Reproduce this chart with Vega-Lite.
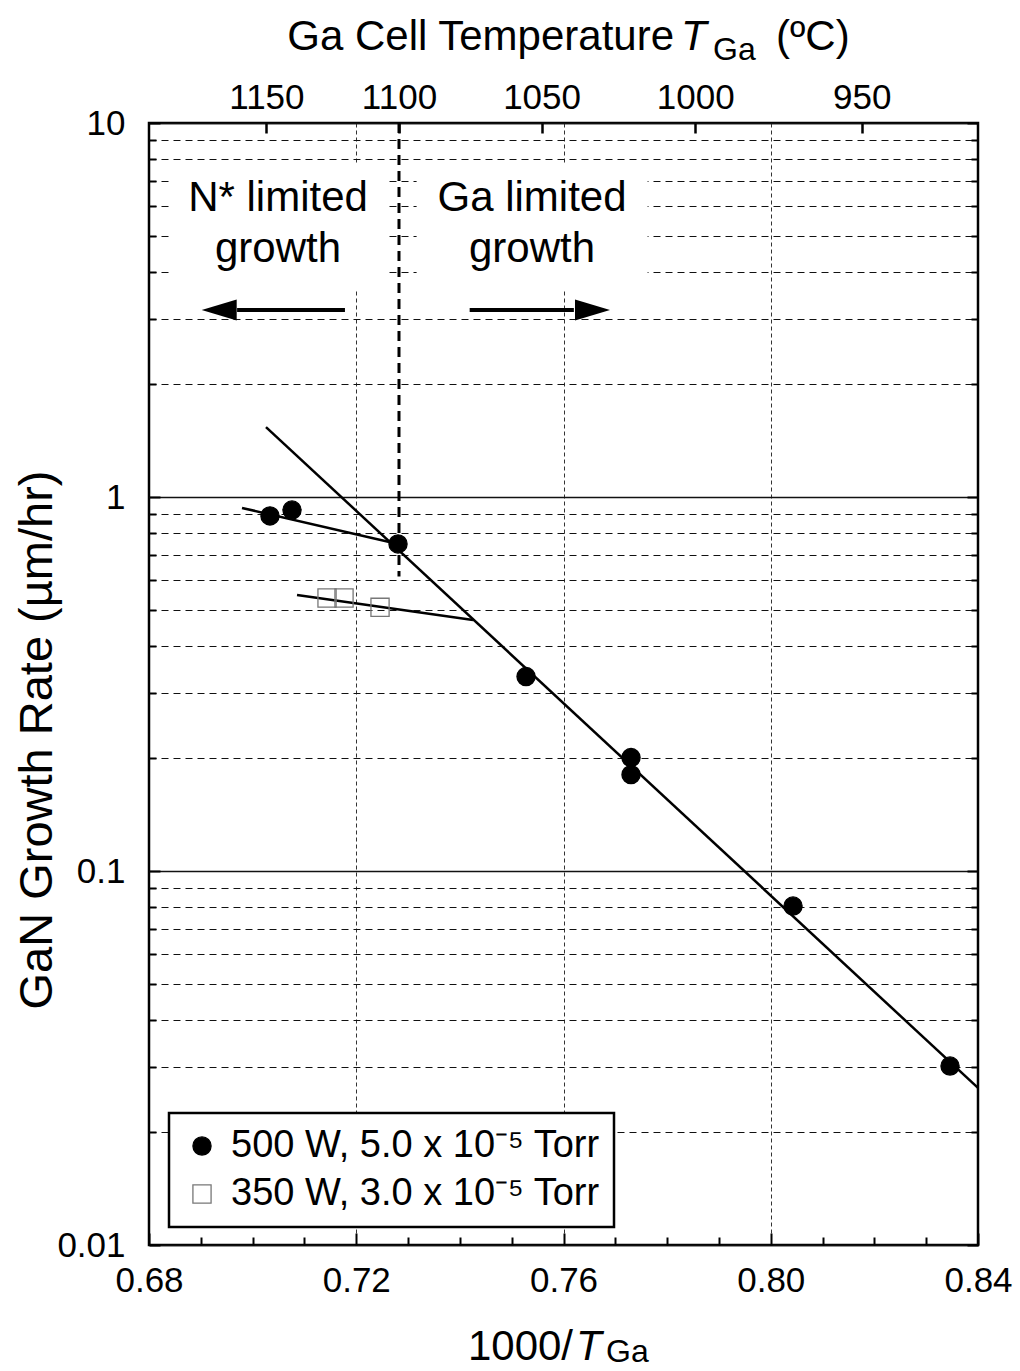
{
  "$schema": "https://vega.github.io/schema/vega-lite/v6.json",
  "width": 829,
  "height": 1122,
  "autosize": "none",
  "padding": {"left": 149, "top": 123, "right": 42, "bottom": 126},
  "background": "white",
  "datasets": {
    "pts": [
      {"s": "500 W, 5.0 x 10⁻⁵ Torr", "x": 0.70335, "y": 0.890},
      {"s": "500 W, 5.0 x 10⁻⁵ Torr", "x": 0.70760, "y": 0.923},
      {"s": "500 W, 5.0 x 10⁻⁵ Torr", "x": 0.72806, "y": 0.749},
      {"s": "500 W, 5.0 x 10⁻⁵ Torr", "x": 0.75277, "y": 0.331},
      {"s": "500 W, 5.0 x 10⁻⁵ Torr", "x": 0.77303, "y": 0.201},
      {"s": "500 W, 5.0 x 10⁻⁵ Torr", "x": 0.77303, "y": 0.181},
      {"s": "500 W, 5.0 x 10⁻⁵ Torr", "x": 0.80430, "y": 0.0806},
      {"s": "500 W, 5.0 x 10⁻⁵ Torr", "x": 0.83460, "y": 0.0301},
      {"s": "350 W, 3.0 x 10⁻⁵ Torr", "x": 0.71436, "y": 0.537},
      {"s": "350 W, 3.0 x 10⁻⁵ Torr", "x": 0.71764, "y": 0.537},
      {"s": "350 W, 3.0 x 10⁻⁵ Torr", "x": 0.72459, "y": 0.507}
    ],
    "fits": [
      {"id": "A", "x1": 0.70258, "y1": 1.538, "x2": 0.84, "y2": 0.0263},
      {"id": "B", "x1": 0.69795, "y1": 0.935, "x2": 0.72806, "y2": 0.749},
      {"id": "C", "x1": 0.70857, "y1": 0.547, "x2": 0.74254, "y2": 0.469}
    ],
    "vline": [{"x": 0.72825, "y1": 10, "y2": 0.613}],
    "boxes": [
      {"x1": 0.68405, "x2": 0.72613, "y1": 7.75, "y2": 3.59},
      {"x1": 0.73165, "x2": 0.77623, "y1": 7.75, "y2": 3.59}
    ],
    "notes": [
      {"t": "N* limited", "x": 0.70490, "y": 5.80},
      {"t": "growth", "x": 0.70490, "y": 4.24},
      {"t": "Ga limited", "x": 0.75392, "y": 5.80},
      {"t": "growth", "x": 0.75392, "y": 4.24}
    ],
    "shafts": [
      {"x1": 0.69700, "x2": 0.71782, "y": 3.162},
      {"x1": 0.74189, "x2": 0.76200, "y": 3.162}
    ],
    "headL": [{"x": 0.69017, "y": 3.162}],
    "headR": [{"x": 0.76898, "y": 3.162}],
    "titleRight": [
      {"t": "Ga Cell Temperature", "x": 0.78133, "y": 15.67},
      {"t": "1000/", "x": 0.76184, "y": 0.004941}
    ],
    "titleLeft": [
      {"t": "(ºC)", "x": 0.80102, "y": 15.67}
    ],
    "titleItalic": [
      {"t": "T", "x": 0.78268, "y": 15.67},
      {"t": "T", "x": 0.76242, "y": 0.004941}
    ],
    "titleSub": [
      {"t": "Ga", "x": 0.78886, "y": 14.74},
      {"t": "Ga", "x": 0.76821, "y": 0.004851}
    ],
    "titleY": [
      {"t": "GaN Growth Rate (µm/hr)", "x": 0.66128, "y": 0.224}
    ]
  },
  "resolve": {"axis": {"x": "independent", "y": "independent"}},
  "layer": [
    {
      "data": {"name": "boxes"},
      "mark": {"type": "rect", "fill": "white", "stroke": null},
      "encoding": {
        "x": {
          "field": "x1", "type": "quantitative",
          "scale": {"type": "linear", "domain": [0.68, 0.84], "nice": false, "zero": false},
          "axis": {
            "orient": "bottom",
            "values": [0.68, 0.69, 0.7, 0.71, 0.72, 0.73, 0.74, 0.75, 0.76, 0.77, 0.78, 0.79, 0.8, 0.81, 0.82, 0.83, 0.84],
            "labelExpr": "indexof([0.68,0.72,0.76,0.8,0.84], datum.value) >= 0 ? format(datum.value, '.2f') : ''",
            "grid": true,
            "gridOpacity": {"condition": {"test": "indexof([0.72,0.76,0.8], datum.value) >= 0", "value": 1}, "value": 0},
            "gridDash": [4, 3],
            "gridColor": "#333333",
            "gridWidth": 1,
            "tickSize": {"condition": {"test": "indexof([0.68,0.72,0.76,0.8,0.84], datum.value) >= 0", "value": -12}, "value": -8},
            "tickWidth": 2,
            "tickColor": "black",
            "labelPadding": 30,
            "labelFontSize": 35,
            "labelFont": "Liberation Sans",
            "labelColor": "black",
            "labelOverlap": false,
            "labelFlush": false,
            "title": null,
            "domain": false
          }
        },
        "x2": {"field": "x2"},
        "y": {
          "field": "y1", "type": "quantitative",
          "scale": {"type": "log", "domain": [0.01, 10], "nice": false},
          "axis": {
            "orient": "left",
            "values": [0.01, 0.02, 0.03, 0.04, 0.05, 0.06, 0.07, 0.08, 0.09, 0.1, 0.2, 0.3, 0.4, 0.5, 0.6, 0.7, 0.8, 0.9, 1, 2, 3, 4, 5, 6, 7, 8, 9, 10],
            "labelExpr": "datum.value == 10 ? '10' : datum.value == 1 ? '1' : datum.value == 0.1 ? '0.1' : datum.value == 0.01 ? '0.01' : ''",
            "grid": true,
            "gridDash": {"condition": {"test": "indexof([0.01,0.1,1,10], datum.value) >= 0", "value": []}, "value": [7, 5]},
            "gridColor": "#111111",
            "gridWidth": {"condition": {"test": "indexof([0.01,0.1,1,10], datum.value) >= 0", "value": 1.3}, "value": 1},
            "tickSize": {"condition": {"test": "indexof([0.01,0.1,1,10], datum.value) >= 0", "value": -11}, "value": -7},
            "tickWidth": 2,
            "tickColor": "black",
            "labelPadding": 35,
            "labelFontSize": 35,
            "labelFont": "Liberation Sans",
            "labelColor": "black",
            "labelOverlap": false,
            "labelFlush": false,
            "title": null,
            "domain": false
          }
        },
        "y2": {"field": "y2"}
      }
    },
    {
      "data": {"name": "vline"},
      "mark": {"type": "rule", "stroke": "black", "strokeWidth": 3, "strokeDash": [10, 6]},
      "encoding": {
        "x": {"field": "x", "type": "quantitative", "scale": {"type": "linear", "domain": [0.68, 0.84], "nice": false, "zero": false}, "axis": null},
        "y": {"field": "y1", "type": "quantitative", "scale": {"type": "log", "domain": [0.01, 10], "nice": false}, "axis": null},
        "y2": {"field": "y2"}
      }
    },
    {
      "data": {"name": "fits"},
      "mark": {"type": "rule", "stroke": "black", "strokeWidth": 2.5},
      "encoding": {
        "x": {"field": "x1", "type": "quantitative", "scale": {"type": "linear", "domain": [0.68, 0.84], "nice": false, "zero": false}, "axis": null},
        "x2": {"field": "x2"},
        "y": {"field": "y1", "type": "quantitative", "scale": {"type": "log", "domain": [0.01, 10], "nice": false}, "axis": null},
        "y2": {"field": "y2"}
      }
    },
    {
      "data": {"name": "shafts"},
      "mark": {"type": "rule", "stroke": "black", "strokeWidth": 4},
      "encoding": {
        "x": {"field": "x1", "type": "quantitative", "scale": {"type": "linear", "domain": [0.68, 0.84], "nice": false, "zero": false}, "axis": null},
        "x2": {"field": "x2"},
        "y": {"field": "y", "type": "quantitative", "scale": {"type": "log", "domain": [0.01, 10], "nice": false}, "axis": null}
      }
    },
    {
      "data": {"name": "headL"},
      "mark": {"type": "point", "filled": true, "fill": "black", "stroke": null, "opacity": 1, "size": 1225, "shape": "M 0 0 L 2 -0.6 L 2 0.6 Z"},
      "encoding": {
        "x": {"field": "x", "type": "quantitative", "scale": {"type": "linear", "domain": [0.68, 0.84], "nice": false, "zero": false}, "axis": null},
        "y": {"field": "y", "type": "quantitative", "scale": {"type": "log", "domain": [0.01, 10], "nice": false}, "axis": null}
      }
    },
    {
      "data": {"name": "headR"},
      "mark": {"type": "point", "filled": true, "fill": "black", "stroke": null, "opacity": 1, "size": 1225, "shape": "M 0 0 L -2 -0.6 L -2 0.6 Z"},
      "encoding": {
        "x": {"field": "x", "type": "quantitative", "scale": {"type": "linear", "domain": [0.68, 0.84], "nice": false, "zero": false}, "axis": null},
        "y": {"field": "y", "type": "quantitative", "scale": {"type": "log", "domain": [0.01, 10], "nice": false}, "axis": null}
      }
    },
    {
      "data": {"name": "notes"},
      "mark": {"type": "text", "font": "Liberation Sans", "fontSize": 42, "color": "black", "align": "center", "baseline": "alphabetic"},
      "encoding": {
        "x": {"field": "x", "type": "quantitative", "scale": {"type": "linear", "domain": [0.68, 0.84], "nice": false, "zero": false}, "axis": null},
        "y": {"field": "y", "type": "quantitative", "scale": {"type": "log", "domain": [0.01, 10], "nice": false}, "axis": null},
        "text": {"field": "t"}
      }
    },
    {
      "data": {"name": "pts"},
      "mark": {"type": "point", "opacity": 1, "size": 330, "strokeWidth": 1.3},
      "encoding": {
        "x": {
          "field": "x", "type": "quantitative",
          "scale": {"type": "linear", "domain": [0.68, 0.84], "nice": false, "zero": false},
          "axis": {
            "orient": "top",
            "values": [0.70266, 0.72825, 0.75577, 0.78543, 0.81756],
            "labelExpr": "format(1000 / datum.value - 273.15, '.0f')",
            "grid": false,
            "tickSize": -10,
            "tickWidth": 2.5,
            "tickColor": "black",
            "labelPadding": 18,
            "labelFontSize": 35,
            "labelFont": "Liberation Sans",
            "labelColor": "black",
            "labelOverlap": false,
            "labelFlush": false,
            "title": null,
            "domain": false
          }
        },
        "y": {
          "field": "y", "type": "quantitative",
          "scale": {"type": "log", "domain": [0.01, 10], "nice": false},
          "axis": {
            "orient": "right",
            "values": [0.01, 0.02, 0.03, 0.04, 0.05, 0.06, 0.07, 0.08, 0.09, 0.1, 0.2, 0.3, 0.4, 0.5, 0.6, 0.7, 0.8, 0.9, 1, 2, 3, 4, 5, 6, 7, 8, 9, 10],
            "labels": false,
            "grid": false,
            "tickSize": {"condition": {"test": "indexof([0.01,0.1,1,10], datum.value) >= 0", "value": -11}, "value": -7},
            "tickWidth": 2,
            "tickColor": "black",
            "title": null,
            "domain": false
          }
        },
        "shape": {
          "field": "s", "type": "nominal",
          "scale": {"domain": ["500 W, 5.0 x 10⁻⁵ Torr", "350 W, 3.0 x 10⁻⁵ Torr"], "range": ["circle", "square"]}
        },
        "fill": {
          "field": "s", "type": "nominal",
          "scale": {"domain": ["500 W, 5.0 x 10⁻⁵ Torr", "350 W, 3.0 x 10⁻⁵ Torr"], "range": ["black", "transparent"]}
        },
        "stroke": {
          "field": "s", "type": "nominal",
          "scale": {"domain": ["500 W, 5.0 x 10⁻⁵ Torr", "350 W, 3.0 x 10⁻⁵ Torr"], "range": ["black", "#777777"]}
        }
      }
    },
    {
      "data": {"name": "titleRight"},
      "mark": {"type": "text", "font": "Liberation Sans", "fontSize": 42, "color": "black", "align": "right", "baseline": "alphabetic", "clip": false},
      "encoding": {
        "x": {"field": "x", "type": "quantitative", "scale": {"type": "linear", "domain": [0.68, 0.84], "nice": false, "zero": false}, "axis": null},
        "y": {"field": "y", "type": "quantitative", "scale": {"type": "log", "domain": [0.01, 10], "nice": false}, "axis": null},
        "text": {"field": "t"}
      }
    },
    {
      "data": {"name": "titleLeft"},
      "mark": {"type": "text", "font": "Liberation Sans", "fontSize": 42, "color": "black", "align": "left", "baseline": "alphabetic", "clip": false},
      "encoding": {
        "x": {"field": "x", "type": "quantitative", "scale": {"type": "linear", "domain": [0.68, 0.84], "nice": false, "zero": false}, "axis": null},
        "y": {"field": "y", "type": "quantitative", "scale": {"type": "log", "domain": [0.01, 10], "nice": false}, "axis": null},
        "text": {"field": "t"}
      }
    },
    {
      "data": {"name": "titleItalic"},
      "mark": {"type": "text", "font": "Liberation Sans", "fontSize": 42, "fontStyle": "italic", "color": "black", "align": "left", "baseline": "alphabetic", "clip": false},
      "encoding": {
        "x": {"field": "x", "type": "quantitative", "scale": {"type": "linear", "domain": [0.68, 0.84], "nice": false, "zero": false}, "axis": null},
        "y": {"field": "y", "type": "quantitative", "scale": {"type": "log", "domain": [0.01, 10], "nice": false}, "axis": null},
        "text": {"field": "t"}
      }
    },
    {
      "data": {"name": "titleSub"},
      "mark": {"type": "text", "font": "Liberation Sans", "fontSize": 32, "color": "black", "align": "left", "baseline": "alphabetic", "clip": false},
      "encoding": {
        "x": {"field": "x", "type": "quantitative", "scale": {"type": "linear", "domain": [0.68, 0.84], "nice": false, "zero": false}, "axis": null},
        "y": {"field": "y", "type": "quantitative", "scale": {"type": "log", "domain": [0.01, 10], "nice": false}, "axis": null},
        "text": {"field": "t"}
      }
    },
    {
      "data": {"name": "titleY"},
      "mark": {"type": "text", "font": "Liberation Sans", "fontSize": 47, "color": "black", "align": "center", "baseline": "alphabetic", "angle": 270, "clip": false},
      "encoding": {
        "x": {"field": "x", "type": "quantitative", "scale": {"type": "linear", "domain": [0.68, 0.84], "nice": false, "zero": false}, "axis": null},
        "y": {"field": "y", "type": "quantitative", "scale": {"type": "log", "domain": [0.01, 10], "nice": false}, "axis": null},
        "text": {"field": "t"}
      }
    }
  ],
  "config": {
    "view": {"stroke": "black", "strokeWidth": 2.5},
    "font": "Liberation Sans",
    "axis": {"domain": false},
    "legend": {
      "orient": "none",
      "legendX": 20,
      "legendY": 990,
      "title": null,
      "strokeColor": "black",
      "strokeWidth": 2.5,
      "fillColor": "white",
      "padding": 14,
      "symbolOffset": 0,
      "symbolSize": 330,
      "symbolStrokeWidth": 1.3,
      "labelFontSize": 38,
      "labelFont": "Liberation Sans",
      "labelColor": "black",
      "labelLimit": 600,
      "labelOffset": 10,
      "rowPadding": 10
    }
  }
}
